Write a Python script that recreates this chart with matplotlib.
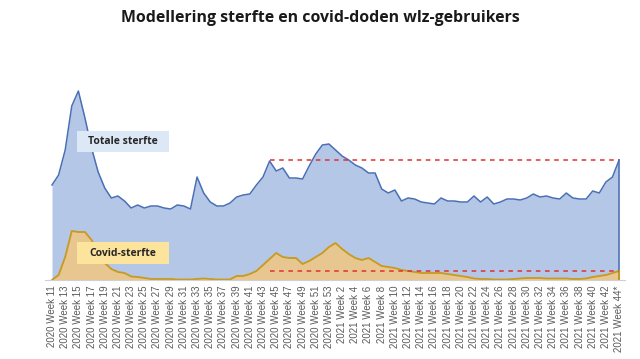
import matplotlib
matplotlib.use("Agg")
import matplotlib.pyplot as plt
from matplotlib.patches import Rectangle
import numpy as np

# week labels: 2020 week 11..53, 2021 week 1..44
weeks = ["2020 Week %d" % w for w in range(11, 54)] + ["2021 Week %d" % w for w in range(1, 45)]
weeks[-1] = "2021 Week 44*"

# estimated weekly deaths
totale = [1900, 2100, 2600, 3480, 3780, 3240, 2640, 2160, 1840, 1640,
          1680, 1580, 1440, 1500, 1440, 1480, 1480, 1440, 1420, 1500,
          1480, 1420, 2060, 1740, 1560, 1480, 1480, 1540, 1660, 1700,
          1720, 1900, 2060, 2380, 2180, 2240, 2040, 2040, 2020, 2280,
          2520, 2700, 2720, 2600, 2480, 2400, 2300, 2240, 2140, 2140,
          1820, 1740, 1800, 1580, 1640, 1620, 1560, 1540, 1520, 1640,
          1580, 1580, 1560, 1560, 1680, 1560, 1660, 1520, 1560, 1620,
          1620, 1600, 1640, 1720, 1660, 1680, 1640, 1620, 1740, 1640,
          1620, 1620, 1780, 1740, 1960, 2060, 2400]

covid = [0, 100, 460, 980, 960, 960, 800, 560, 340, 220,
         160, 140, 70, 60, 40, 20, 20, 20, 20, 10,
         10, 10, 20, 30, 20, 10, 10, 10, 80, 80,
         120, 180, 300, 420, 540, 460, 440, 440, 320, 380,
         460, 540, 660, 740, 620, 520, 440, 400, 440, 360,
         280, 260, 240, 200, 180, 160, 140, 140, 140, 140,
         120, 100, 80, 60, 30, 20, 20, 10, 10, 10,
         20, 30, 40, 40, 40, 30, 30, 30, 30, 20,
         20, 30, 60, 80, 100, 140, 180]

x = np.arange(len(weeks))

W, H = 640, 359
fig = plt.figure(figsize=(6.4, 3.59), dpi=100)
ax = fig.add_axes([45/W, 1 - 280/H, 580/W, 220/H])

ax.fill_between(x, totale, color="#b4c7e7", lw=0)
ax.plot(x, totale, color="#4a6fb5", lw=1.1)
ax.plot([x[-1], x[-1]], [0, totale[-1]], color="#4a6fb5", lw=1.1)

ax.fill_between(x, covid, color="#e8c68f", lw=0)
ax.plot(x, covid, color="#c99a1c", lw=1.3)
ax.plot([x[-1], x[-1]], [0, covid[-1]], color="#c99a1c", lw=1.3)

# reference lines at the last week's level, from 2020 week 44
start = weeks.index("2020 Week 44")
ax.hlines([totale[-1], covid[-1]], start, x[-1], colors="#e03030", linestyles=(0, (3, 3)), lw=1.1)

ax.set_xlim(-1.06, 86.9)
ax.set_ylim(0, 4400)
ax.set_yticks([])
ax.set_xticks(x[::2])
ax.set_xticklabels(weeks[::2], rotation=90, fontsize=7, color="#595959", family="Liberation Sans")
ax.tick_params(axis="x", length=0, pad=4)
for s in ["top", "right", "left"]:
    ax.spines[s].set_visible(False)
ax.spines["bottom"].set_color("#d0d0d0")

# label boxes (pixel positions from the reference)
def label_box(x0, y0, x1, y1, text, fc):
    fig.patches.append(Rectangle((x0/W, 1 - y1/H), (x1-x0)/W, (y1-y0)/H,
                                 transform=fig.transFigure, fc=fc, ec="none", zorder=3))
    fig.text((x0+x1)/2/W, 1 - (y0+y1)/2/H, text, fontsize=7.5, fontweight="bold",
             color="#262626", ha="center", va="center", family="Open Sans", zorder=4)

label_box(77, 131, 169, 152, "Totale sterfte", "#dce8f6")
label_box(77, 242, 169, 264, "Covid-sterfte", "#fde49c")

fig.text(0.5, 1 - 18/H, "Modellering sterfte en covid-doden wlz-gebruikers",
         ha="center", va="center", fontsize=11.4, fontweight="bold", family="Open Sans", color="#1a1a1a")

fig.savefig("out.png", dpi=100)
